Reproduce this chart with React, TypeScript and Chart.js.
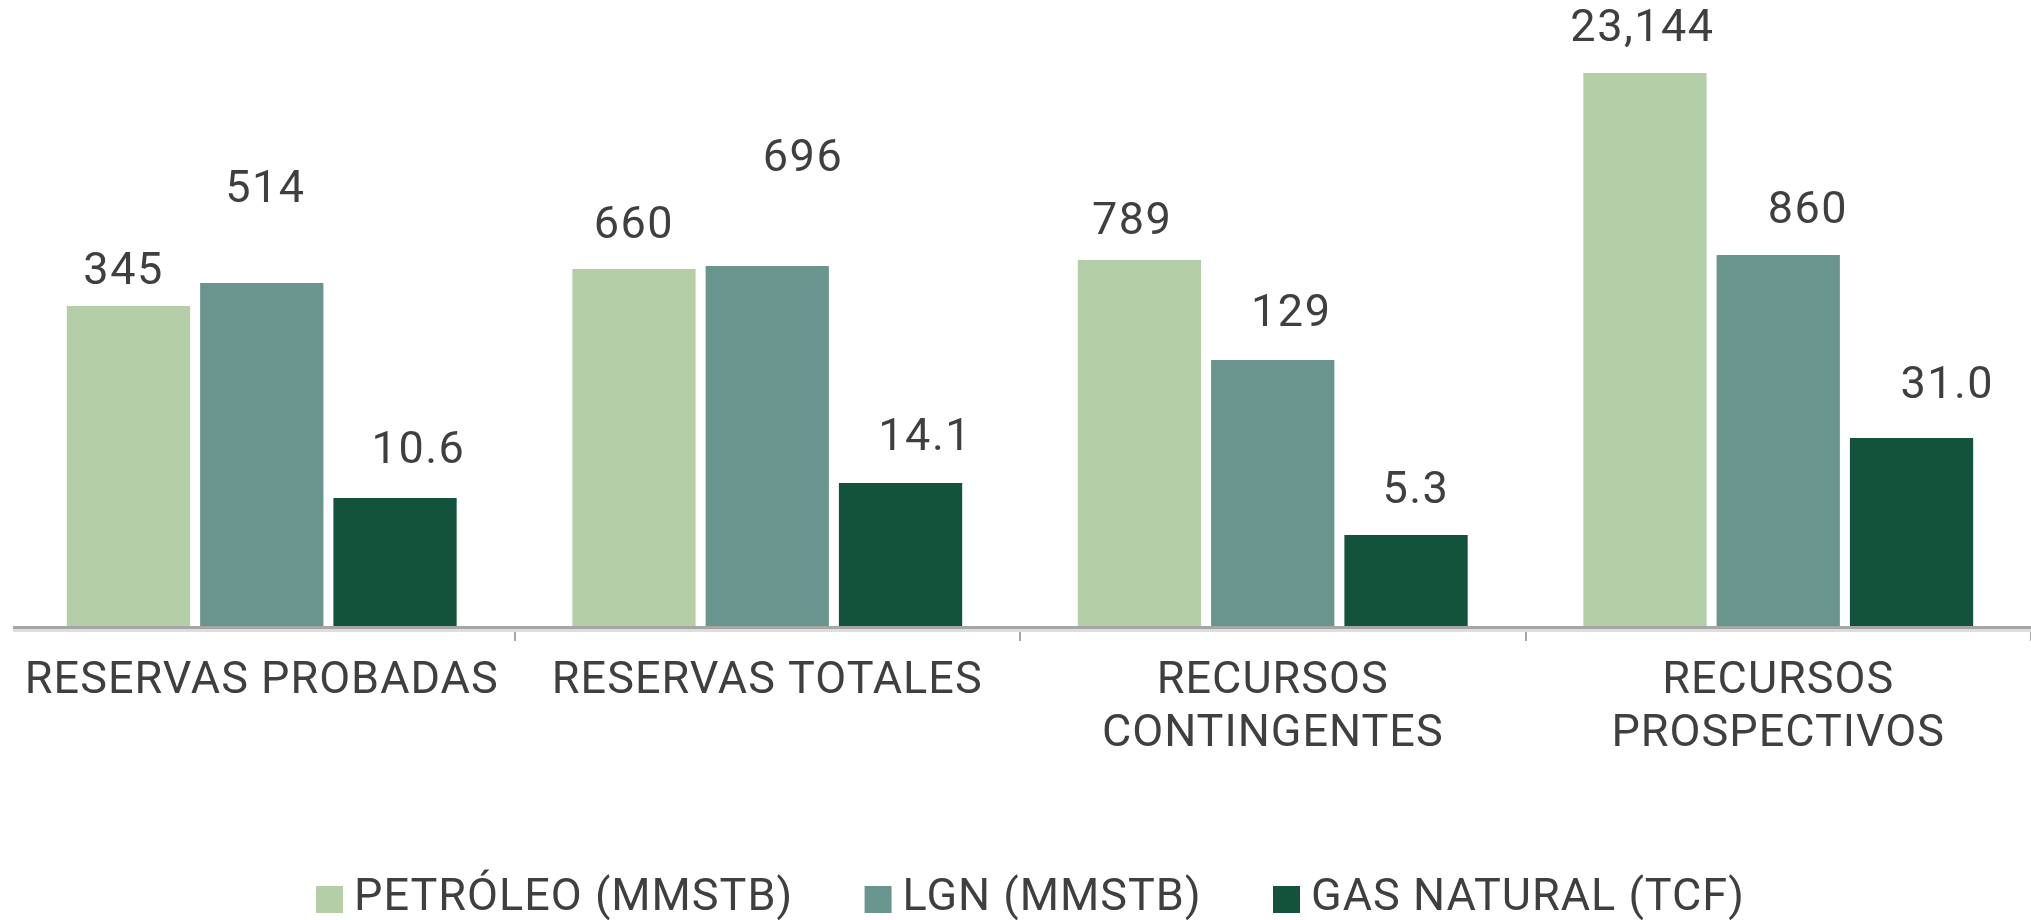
import React, { useEffect, useRef } from "react";
import { Chart, registerables } from "chart.js";

Chart.register(...registerables);

// Categories
const categories: string[][] = [
  ["RESERVAS PROBADAS"],
  ["RESERVAS TOTALES"],
  ["RECURSOS", "CONTINGENTES"],
  ["RECURSOS", "PROSPECTIVOS"],
];

const seriesNames = ["PETRÓLEO (MMSTB)", "LGN (MMSTB)", "GAS NATURAL (TCF)"];

// Displayed values (as printed on the chart)
const petroleoValues = ["345", "660", "789", "23,144"];
const lgnValues = ["514", "696", "129", "860"];
const gasValues = ["10.6", "14.1", "5.3", "31.0"];

// Visual bar heights (the chart is not drawn to a common scale), in plot units
const petroleoHeights = [321, 358, 367, 554];
const lgnHeights = [344, 361, 267, 372];
const gasHeights = [129, 144, 92, 189];

// Level (in plot units) at which each value label sits
const petroleoLabelLevels = [358, 404, 408, 601];
const lgnLabelLevels = [440, 471, 316, 419];
const gasLabelLevels = [179, 192, 139, 244];

const PLOT_MAX = 627;

const colors = ["#b4cea7", "#6a958e", "#13533c"];
const TEXT = "#3f3f3f";
const FONT = "Roboto, 'Liberation Sans', sans-serif";

// label horizontal nudges as a fraction of bar width (style)
const labelShift = [
  [-0.04, 0.0, -0.06, -0.02],
  [0.03, 0.29, 0.15, 0.24],
  [0.19, 0.2, 0.08, 0.29],
];

export default function App() {
  const ref = useRef<HTMLCanvasElement | null>(null);

  useEffect(() => {
    if (!ref.current) return;
    const valueSets = [petroleoValues, lgnValues, gasValues];
    const levelSets = [petroleoLabelLevels, lgnLabelLevels, gasLabelLevels];

    const spacingPlugin = {
      id: "letterSpacing",
      beforeDraw(chart: any) {
        chart.ctx.letterSpacing = "1px";
      },
    };

    const labelPlugin = {
      id: "valueLabels",
      afterDatasetsDraw(chart: any) {
        const ctx = chart.ctx;
        const yScale = chart.scales.y;
        ctx.save();
        ctx.letterSpacing = "1.5px";
        ctx.font = `45px ${FONT}`;
        ctx.fillStyle = TEXT;
        ctx.textAlign = "center";
        ctx.textBaseline = "middle";
        chart.data.datasets.forEach((_ds: any, i: number) => {
          const meta = chart.getDatasetMeta(i);
          meta.data.forEach((bar: any, j: number) => {
            const w = bar.width;
            const x = bar.x + labelShift[i][j] * w;
            const y = yScale.getPixelForValue(levelSets[i][j]) + 4;
            ctx.fillText(valueSets[i][j], x, y);
          });
        });
        ctx.restore();
      },
    };

    const axisPlugin = {
      id: "axisLine",
      afterDraw(chart: any) {
        const ctx = chart.ctx;
        const b = chart.chartArea.bottom;
        ctx.save();
        ctx.fillStyle = "#a6a6a6";
        ctx.fillRect(13, b - 1, chart.width - 13, 3);
        ctx.fillStyle = "#dedede";
        ctx.fillRect(13, b + 2, chart.width - 13, 3);
        ctx.restore();
      },
    };

    const legendPlugin = {
      id: "customLegend",
      afterDraw(chart: any) {
        const ctx = chart.ctx;
        ctx.save();
        ctx.letterSpacing = "1px";
        ctx.font = `45px ${FONT}`;
        const box = 27;
        const gapText = 11;
        const startX = 316;
        const lastBoxX = 1273;
        const widths = seriesNames.map((n) => ctx.measureText(n).width);
        const gapItem =
          (lastBoxX - startX - 2 * (box + gapText) - widths[0] - widths[1]) / 2;
        let x = startX;
        const cy = 899;
        ctx.textBaseline = "middle";
        ctx.textAlign = "left";
        seriesNames.forEach((n, i) => {
          ctx.fillStyle = colors[i];
          ctx.fillRect(x, 886, box, box);
          x += box + gapText;
          ctx.fillStyle = TEXT;
          ctx.fillText(n, x, cy);
          x += widths[i] + gapItem;
        });
        ctx.restore();
      },
    };

    const heights = [petroleoHeights, lgnHeights, gasHeights];

    const chart = new Chart(ref.current, {
      type: "bar",
      data: {
        labels: categories,
        datasets: seriesNames.map((name, i) => ({
          label: name,
          data: heights[i],
          backgroundColor: colors[i],
          borderWidth: 0,
          categoryPercentage: 0.791,
          barPercentage: 0.925,
        })),
      },
      options: {
        animation: false,
        responsive: true,
        maintainAspectRatio: false,
        layout: { padding: { left: 9, right: -4, top: 0, bottom: 0 } },
        plugins: {
          legend: { display: false },
          tooltip: { enabled: false },
        },
        scales: {
          x: {
            afterFit: (scale: any) => {
              scale.height = 920 - PLOT_MAX;
            },
            border: { display: false },
            grid: {
              display: true,
              drawOnChartArea: false,
              drawTicks: true,
              tickLength: 14,
              lineWidth: 2,
              color: (c: any) =>
                c.index === 0 || c.index === categories.length
                  ? "rgba(0,0,0,0)"
                  : "#a6a6a6",
            },
            ticks: {
              color: TEXT,
              font: { family: FONT, size: 45, lineHeight: 1.18 },
              padding: 14,
              maxRotation: 0,
              minRotation: 0,
              autoSkip: false,
            },
          },
          y: {
            display: false,
            min: 0,
            max: PLOT_MAX,
          },
        },
      },
      plugins: [spacingPlugin, labelPlugin, axisPlugin, legendPlugin],
    });
    return () => chart.destroy();
  }, []);

  return (
    <div
      style={{
        position: "absolute",
        left: 0,
        top: 0,
        width: 2031,
        height: 920,
        background: "#ffffff",
      }}
    >
      <canvas ref={ref} />
    </div>
  );
}
